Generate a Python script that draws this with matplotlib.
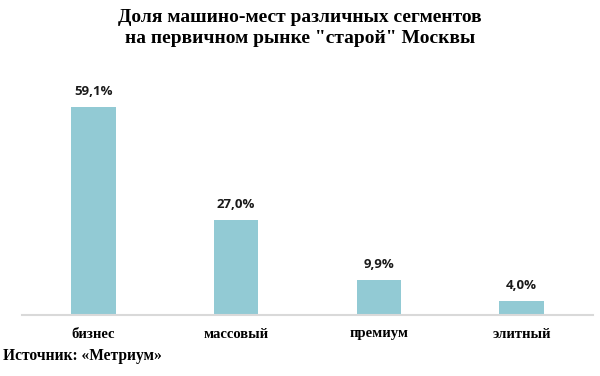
import matplotlib
matplotlib.use("Agg")
import matplotlib.pyplot as plt

categories = ["бизнес", "массовый", "премиум", "элитный"]
values = [59.1, 27.0, 9.9, 4.0]
labels = ["59,1%", "27,0%", "9,9%", "4,0%"]

title = 'Доля машино-мест различных сегментов\nна первичном рынке "старой" Москвы'
source = "Источник: «Метриум»"

W, H = 600, 376
fig = plt.figure(figsize=(W / 100, H / 100), dpi=100)
ax_left, ax_right = 22, 593
ax_bottom, ax_top = 315, 80
ax = fig.add_axes([ax_left / W, 1 - ax_bottom / H, (ax_right - ax_left) / W, (ax_bottom - ax_top) / H])

x = list(range(len(categories)))
bars = ax.bar(x, values, width=0.31, color="#92CAD4", zorder=2)
ax.set_xlim(-0.5, len(categories) - 0.5)
ax.set_ylim(0, (ax_bottom - ax_top) / (208 / 59.1))

for b, lab in zip(bars, labels):
    ax.annotate(lab, (b.get_x() + b.get_width() / 2, b.get_height()),
                xytext=(0, 6.5), textcoords="offset points", ha="center", va="bottom",
                fontsize=9.5, fontweight="bold", family="Open Sans", color="#1a1a1a")

for s in ["top", "right", "left"]:
    ax.spines[s].set_visible(False)
ax.spines["bottom"].set_color("#D9D9D9")
ax.spines["bottom"].set_linewidth(1.5)
ax.set_yticks([])
ax.set_xticks(x)
ax.set_xticklabels(categories, family="Liberation Serif", fontweight="bold", fontsize=10.5)
ax.tick_params(axis="x", length=0, pad=9)

fig.text(0.5, 1 - 28 / H, title, ha="center", va="center", family="Liberation Serif",
         fontweight="bold", fontsize=14, linespacing=1.28)
fig.text(3 / W, 1 - 356 / H, source, ha="left", va="center", family="Liberation Serif",
         fontweight="bold", fontsize=11.2)

fig.savefig("out.png", dpi=100)
